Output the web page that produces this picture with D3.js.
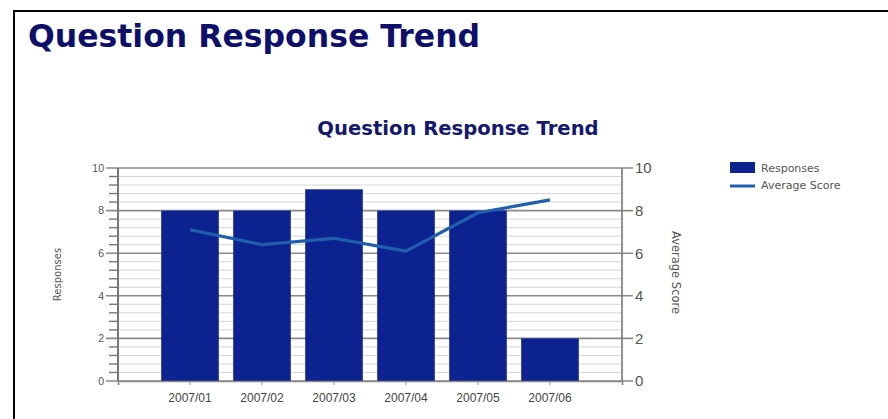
<!DOCTYPE html>
<html>
<head>
<meta charset="utf-8">
<script src="https://cdn.jsdelivr.net/npm/d3@7"></script>
<style>
  body { margin: 0; background: #fff; }
  svg { display: block; }
</style>
</head>
<body>
<div id="wrapper"></div>
<script>
// data
const months = ["2007/01", "2007/02", "2007/03", "2007/04", "2007/05", "2007/06"];
const responses = [8, 8, 9, 8, 8, 2];
const avgScore = [7.1, 6.4, 6.7, 6.1, 7.9, 8.5];
const yTicks = [0, 2, 4, 6, 8, 10];
const legendLabels = ["Responses", "Average Score"];

const width = 888, height = 419;
const dims = { left: 118, right: 622, top: 168, bottom: 381 };

const barColor = "#0c2290";
const lineColor = "#1f5fae";

const svg = d3.select("#wrapper").append("svg")
    .attr("width", width)
    .attr("height", height);

// page frame
svg.append("path")
    .attr("d", `M14,${height} L14,11 L${width},11`)
    .attr("fill", "none")
    .attr("stroke", "#000")
    .attr("stroke-width", 2);

svg.append("text")
    .attr("x", 28)
    .attr("y", 47)
    .attr("font-family", "DejaVu Sans, Verdana, sans-serif")
    .attr("font-weight", "bold")
    .attr("font-size", 31.5)
    .attr("fill", "#0d0f6b")
    .text("Question Response Trend");

svg.append("text")
    .attr("x", 458)
    .attr("y", 135)
    .attr("text-anchor", "middle")
    .attr("font-family", "DejaVu Sans, Verdana, sans-serif")
    .attr("font-weight", "bold")
    .attr("font-size", 19.6)
    .attr("fill", "#14186e")
    .text("Question Response Trend");

// scales
const x = d3.scaleBand()
    .domain(months)
    .range([dims.left, dims.right])
    .paddingInner(0.2)
    .paddingOuter(0.6);

const yL = d3.scaleLinear().domain([0, 10]).range([dims.bottom, dims.top]);
const yR = d3.scaleLinear().domain([0, 10]).range([dims.bottom, dims.top]);

// minor grid
const minor = d3.range(0, 10.001, 0.4).filter(v => Math.abs(v / 2 - Math.round(v / 2)) > 0.01);
svg.append("g")
  .selectAll("line")
  .data(minor)
  .join("line")
    .attr("x1", dims.left)
    .attr("x2", dims.right)
    .attr("y1", d => yL(d))
    .attr("y2", d => yL(d))
    .attr("stroke", "#d6d6d6")
    .attr("stroke-width", 1);

// major grid
svg.append("g")
  .selectAll("line")
  .data(yTicks)
  .join("line")
    .attr("x1", dims.left - 12)
    .attr("x2", dims.right + 11)
    .attr("y1", d => yL(d))
    .attr("y2", d => yL(d))
    .attr("stroke", "#8a8a8a")
    .attr("stroke-width", 1.6);

// left axis minor ticks
svg.append("g")
  .selectAll("line")
  .data(minor)
  .join("line")
    .attr("x1", dims.left - 9)
    .attr("x2", dims.left)
    .attr("y1", d => yL(d))
    .attr("y2", d => yL(d))
    .attr("stroke", "#777")
    .attr("stroke-width", 1.4);

// bars
svg.append("g")
  .selectAll("rect")
  .data(months)
  .join("rect")
    .attr("x", d => x(d))
    .attr("width", x.bandwidth())
    .attr("y", (d, i) => yL(responses[i]))
    .attr("height", (d, i) => yL(0) - yL(responses[i]))
    .attr("fill", barColor);

// axes lines
svg.append("line")
    .attr("x1", dims.left).attr("x2", dims.left)
    .attr("y1", dims.top).attr("y2", dims.bottom)
    .attr("stroke", "#777").attr("stroke-width", 2);
svg.append("line")
    .attr("x1", dims.right).attr("x2", dims.right)
    .attr("y1", dims.top).attr("y2", dims.bottom)
    .attr("stroke", "#777").attr("stroke-width", 1.6);

// x axis
const xAxis = svg.append("g")
    .attr("transform", `translate(0,${dims.bottom})`)
    .call(d3.axisBottom(x).tickSize(4).tickPadding(8));
xAxis.select(".domain").attr("stroke", "#888").attr("stroke-width", 1.6);
xAxis.selectAll(".tick line").attr("stroke", "#888");
xAxis.selectAll("text")
    .attr("font-family", "Liberation Sans Narrow, Liberation Sans, Arial, sans-serif")
    .attr("font-size", 12)
    .attr("fill", "#444");

// left axis labels
const leftAxis = svg.append("g")
    .attr("transform", `translate(${dims.left},0)`)
    .call(d3.axisLeft(yL).tickValues(yTicks).tickSize(0).tickPadding(14));
leftAxis.select(".domain").remove();
leftAxis.selectAll("text")
    .attr("font-family", "Liberation Sans, Arial, sans-serif")
    .attr("font-size", 10.5)
    .attr("fill", "#555");

// right axis labels
const rightAxis = svg.append("g")
    .attr("transform", `translate(${dims.right},0)`)
    .call(d3.axisRight(yR).tickValues(yTicks).tickSize(0).tickPadding(13));
rightAxis.select(".domain").remove();
rightAxis.selectAll("text")
    .attr("font-family", "Liberation Sans, Arial, sans-serif")
    .attr("font-size", 15)
    .attr("fill", "#555");

// line
const lineGen = d3.line()
    .x((d, i) => x(months[i]) + x.bandwidth() / 2)
    .y(d => yR(d));

svg.append("path")
    .attr("d", lineGen(avgScore))
    .attr("fill", "none")
    .attr("stroke", lineColor)
    .attr("stroke-width", 3.2)
    .attr("stroke-linejoin", "round");

// axis titles
svg.append("text")
    .attr("transform", `translate(61,${(dims.top + dims.bottom) / 2}) rotate(-90)`)
    .attr("text-anchor", "middle")
    .attr("font-family", "DejaVu Sans, Verdana, sans-serif")
    .attr("font-size", 10)
    .attr("fill", "#555")
    .text("Responses");

svg.append("text")
    .attr("transform", `translate(672,${(dims.top + dims.bottom) / 2 - 2}) rotate(90)`)
    .attr("text-anchor", "middle")
    .attr("font-family", "DejaVu Sans, Verdana, sans-serif")
    .attr("font-size", 11.5)
    .attr("fill", "#555")
    .text("Average Score");

// legend
const legend = svg.append("g").attr("transform", "translate(730,162)");
legend.append("rect")
    .attr("x", 0).attr("y", 0)
    .attr("width", 25).attr("height", 11)
    .attr("fill", barColor);
legend.append("line")
    .attr("x1", 0).attr("x2", 25)
    .attr("y1", 24).attr("y2", 24)
    .attr("stroke", lineColor)
    .attr("stroke-width", 3);
legend.selectAll("text")
  .data(legendLabels)
  .join("text")
    .attr("x", 31)
    .attr("y", (d, i) => 10 + i * 17)
    .attr("font-family", "DejaVu Sans, Verdana, sans-serif")
    .attr("font-size", 11)
    .attr("fill", "#555")
    .text(d => d);
</script>
</body>
</html>
